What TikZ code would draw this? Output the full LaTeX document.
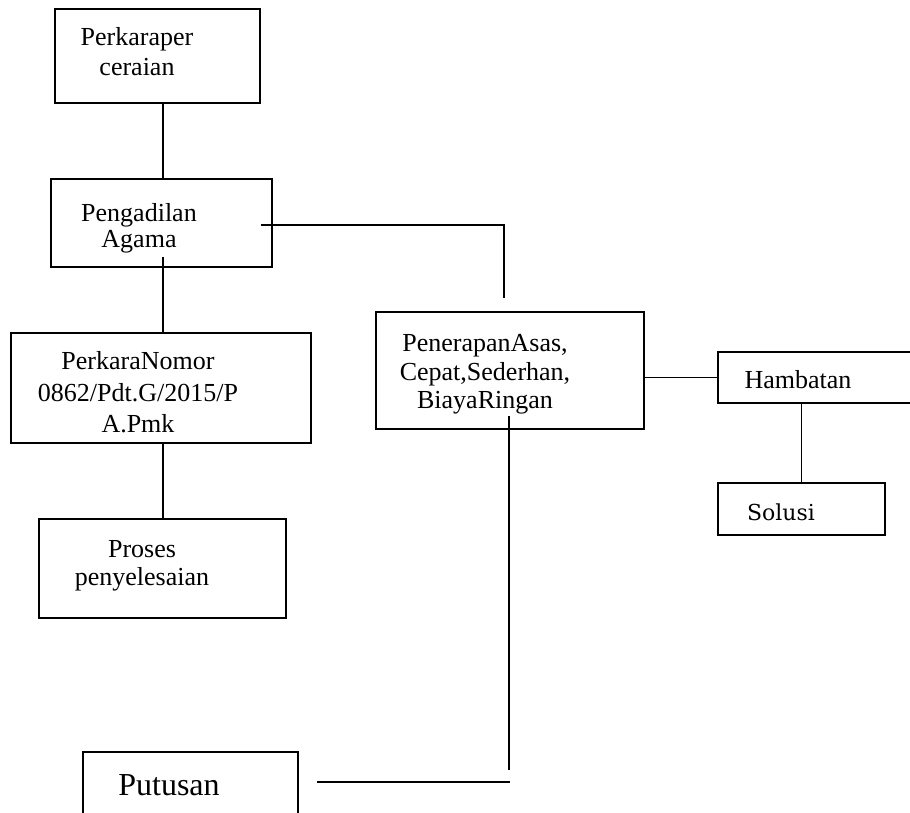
\documentclass[tikz,border=0pt]{standalone}
\usepackage{fontspec}
\setmainfont{Liberation Serif}
\newfontfamily\slabfont{DejaVu Serif}

\begin{document}
\begin{tikzpicture}[x=1pt,y=-1pt,
  box/.style={draw,line width=1.5pt,inner sep=0pt},
  lbl/.style={inner sep=0pt,align=center,font=\fontsize{26}{30}\selectfont},
  link/.style={line width=1.5pt}]
\clip (0,0) rectangle (910,812);
\useasboundingbox (0,0) rectangle (910,812);
% boxes
\node[box,minimum width=205pt,minimum height=94pt] (perkara) at (157.5,56) {};
\node[box,minimum width=221pt,minimum height=88pt] (pengadilan) at (161.5,223) {};
\node[box,minimum width=300pt,minimum height=110pt] (nomor) at (161,388) {};
\node[box,minimum width=247pt,minimum height=99pt] (proses) at (162.5,568.5) {};
\node[box,minimum width=268pt,minimum height=117pt] (asas) at (510,370.5) {};
\node[box,minimum width=222pt,minimum height=51pt] (hambatan) at (829,377.5) {};
\node[box,minimum width=167pt,minimum height=52pt] (solusi) at (801.5,509) {};
\node[box,minimum width=215pt,minimum height=78pt] (putusan) at (190.5,791) {};
% texts
\node[lbl] (perkaraT) at (137,52) {Perkaraper\\ceraian};
\node[lbl,font=\fontsize{26}{26}\selectfont] (pengadilanT) at (139,228) {Pengadilan\\Agama};
\node[lbl,font=\fontsize{26}{31.5}\selectfont] (nomorT) at (138,392.5) {PerkaraNomor\\0862/Pdt.G/2015/P\\A.Pmk};
\node[lbl,font=\fontsize{26}{28}\selectfont] (prosesT) at (142,566) {Proses\\penyelesaian};
\node[lbl,font=\fontsize{26}{28.5}\selectfont] (asasT) at (485,374.5) {PenerapanAsas,\\Cepat,Sederhan,\\BiayaRingan};
\node[lbl,anchor=base] (hambatanT) at (798,388) {Hambatan};
\node[lbl,anchor=base,font=\slabfont\fontsize{22}{26}\selectfont] (solusiT) at (781,520) {Solusi};
\node[lbl,anchor=base,font=\fontsize{32}{36}\selectfont] (putusanT) at (169,795) {Putusan};
% free ends
\coordinate (p2) at (163,257);
\coordinate (p3) at (261,225);
\coordinate (p4) at (504,298);
\coordinate (p5) at (509,416);
\coordinate (p6) at (509,770);
\coordinate (p7) at (317,782);
\coordinate (p8) at (510,782);
% lines
\draw[link] ([xshift=5.5pt]perkara.south) -- ([xshift=1.5pt]pengadilan.north);
\draw[link] (p2) -- ([xshift=2pt]nomor.north);
\draw[link] (p3) -| (p4);
\draw[link] ([xshift=2pt]nomor.south) -- ([xshift=0.5pt]proses.north);
\draw[link] (asas.east |- hambatan.west) -- (hambatan.west);
\draw[link] (solusi.north |- hambatan.south) -- (solusi.north);
\draw[link] (p5) -- (p6);
\draw[link] (p7) -- (p8);
\end{tikzpicture}
\end{document}
